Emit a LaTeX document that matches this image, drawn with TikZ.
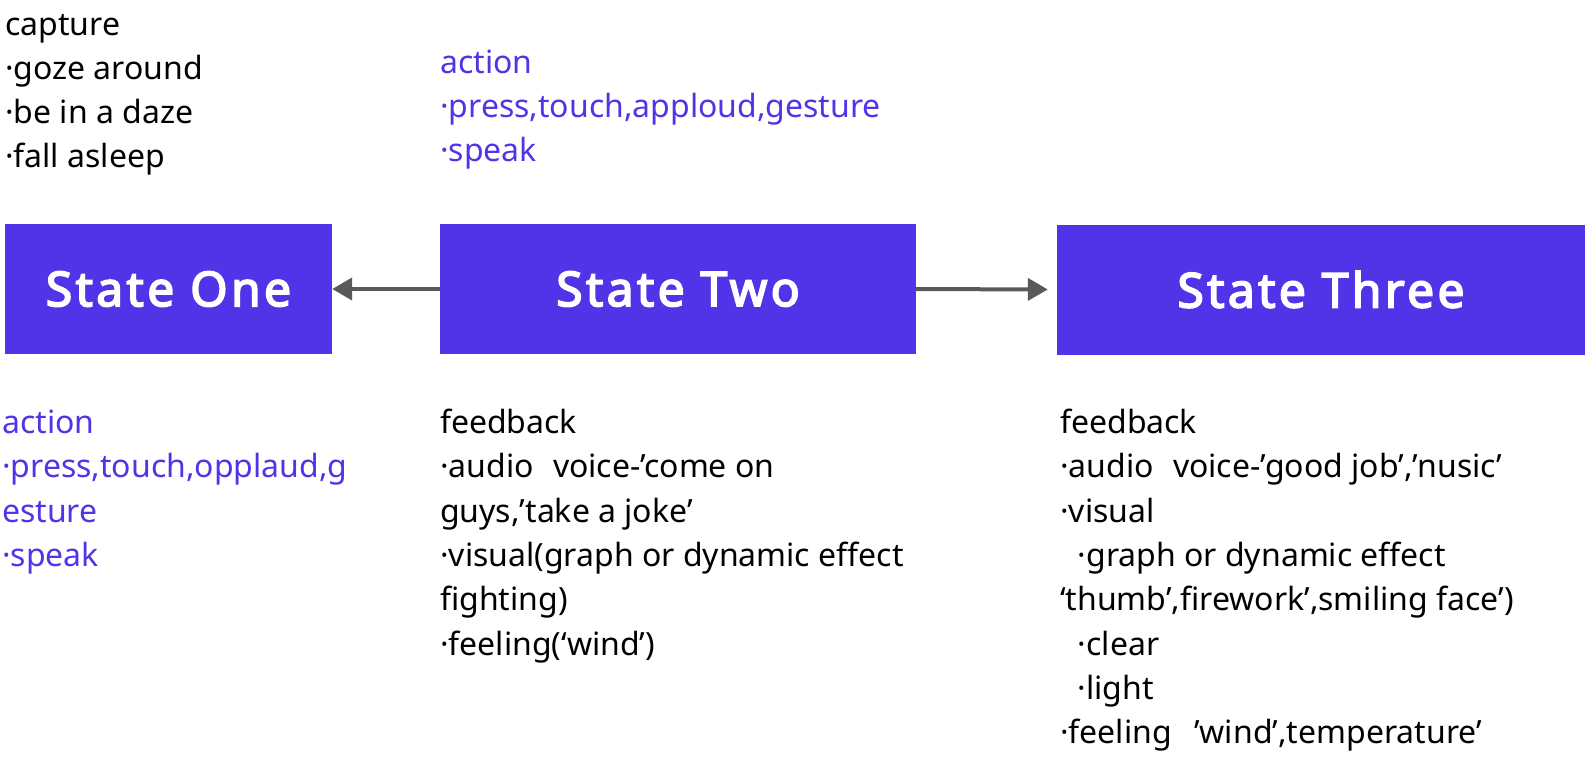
\documentclass[tikz,border=0pt]{standalone}
\usepackage{fontspec}
\setmainfont{Noto Sans}
\newfontfamily\statefont[LetterSpace=7,FakeBold=3.5]{Noto Sans}
\usetikzlibrary{positioning,arrows.meta}
\definecolor{state-blue}{HTML}{5233E8}
\definecolor{arrow-grey}{HTML}{595959}
\newlength{\basisstatediagram}
\setlength{\basisstatediagram}{10pt}

\begin{document}
\begin{tikzpicture}[
    statebox/.style={fill=state-blue, minimum height=13\basisstatediagram, inner sep=0pt, text=white,
        font=\statefont\fontsize{48}{48}\selectfont},
    notes/.style={anchor=base west, align=left, inner sep=0pt, font=\fontsize{32}{44.3}\selectfont},
    arrowline/.style={-{Triangle[length=20pt,width=22pt]}, line width=4pt, arrow-grey}]
    \useasboundingbox (0,0) rectangle (159.4\basisstatediagram,-75.6\basisstatediagram);

    \draw (16.85\basisstatediagram,-28.9\basisstatediagram) 
		node[statebox, minimum width=32.7\basisstatediagram] 
			(state-one) {State One};

    \draw (67.8\basisstatediagram,-28.9\basisstatediagram) 
		node[statebox, minimum width=47.6\basisstatediagram] 
			(state-two) {State Two};

    \draw (132.1\basisstatediagram,-28.95\basisstatediagram) 
		node[statebox, minimum width=52.8\basisstatediagram] 
			(state-three) {State Three};

	\draw[arrowline] (state-two.west) -- (state-one.east);
	\draw[arrowline] (state-two.east) -- ([xshift=-9pt]state-three.west);

    % capture / action above the boxes (anchored at the last line)
    \node[notes] (capture) at (0.5\basisstatediagram,-16.79\basisstatediagram)
        {capture\\·goze around\\·be in a daze\\·fall asleep};
    \node[notes, text=state-blue] (action-two) at (44.0\basisstatediagram,-16.16\basisstatediagram)
        {action\\·press,touch,apploud,gesture\\·speak};

    % below the boxes
    \node[notes, text=state-blue] (action-one) at (0.2\basisstatediagram,-56.64\basisstatediagram)
        {action\\·press,touch,opplaud,g\\esture\\·speak};
    \node[notes] (feedback-two) at (44.0\basisstatediagram,-65.5\basisstatediagram)
        {feedback\\·audio\hspace{0.6em}voice-’come on\\guys,’take a joke’\\·visual(graph or dynamic effect\\fighting)\\·feeling(‘wind’)};
    \node[notes] (feedback-three) at (106.0\basisstatediagram,-74.36\basisstatediagram)
        {feedback\\·audio\hspace{0.6em}voice-’good job’,’nusic’\\·visual\\\hspace{0.55em}·graph or dynamic effect\\‘thumb’,firework’,smiling face’)\\\hspace{0.55em}·clear\\\hspace{0.55em}·light\\·feeling\hspace{0.7em}’wind’,temperature’};
\end{tikzpicture}
\end{document}
